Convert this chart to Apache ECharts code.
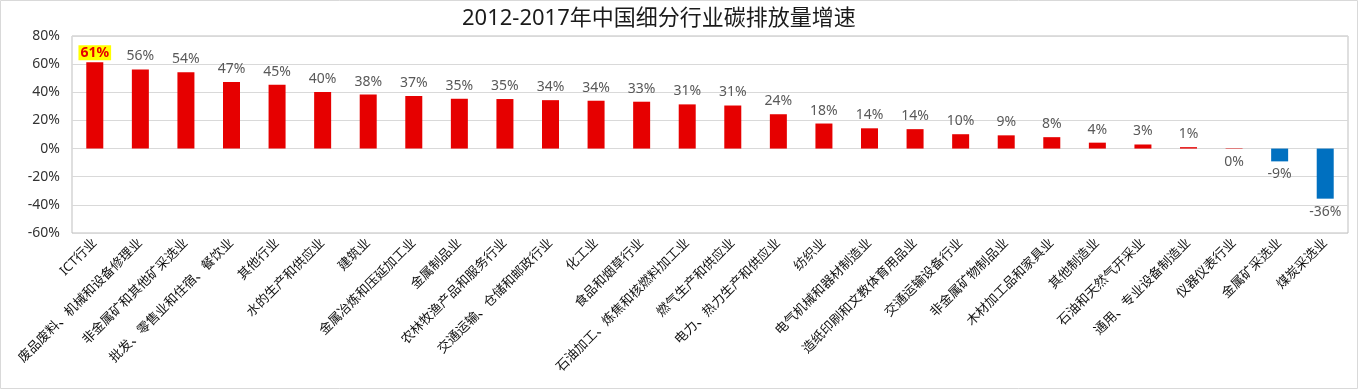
<!DOCTYPE html>
<html>
<head>
<meta charset="utf-8">
<script src="https://cdn.jsdelivr.net/npm/echarts@6/dist/echarts.min.js"></script>
<style>
html,body{margin:0;padding:0;background:#fff;}
#chart{width:1366px;height:390px;}
</style>
</head>
<body>
<div id="chart"></div>
<script>
const titleText = '2012-2017年中国细分行业碳排放量增速';
const categories = ['ICT行业','废品废料、机械和设备修理业','非金属矿和其他矿采选业','批发、零售业和住宿、餐饮业','其他行业','水的生产和供应业','建筑业','金属冶炼和压延加工业','金属制品业','农林牧渔产品和服务行业','交通运输、仓储和邮政行业','化工业','食品和烟草行业','石油加工、炼焦和核燃料加工业','燃气生产和供应业','电力、热力生产和供应业','纺织业','电气机械和器材制造业','造纸印刷和文教体育用品业','交通运输设备行业','非金属矿物制品业','木材加工品和家具业','其他制造业','石油和天然气开采业','通用、专业设备制造业','仪器仪表行业','金属矿采选业','煤炭采选业'];
const growth = [61.4,56.2,54.3,47.3,45.4,40.2,38.4,37.3,35.4,35.2,34.4,34.0,33.3,31.4,30.6,24.4,17.8,14.4,13.8,10.2,9.4,8.1,4.2,2.9,1.0,-0.3,-9.1,-35.6];
const yTicks = [-60,-40,-20,0,20,40,60,80];

const RED = '#E60000', BLUE = '#0070C0';
const font = '"Noto Sans", "Noto Sans CJK SC", sans-serif';

const data = growth.map((v, i) => {
  const item = { value: v, itemStyle: { color: (v < -1) ? BLUE : RED } };
  if (i === 0) {
    item.label = { color: RED, fontWeight: 'bold', backgroundColor: '#FFFF00', padding: [1, 2, 0, 2], distance: 2 };
  }
  return item;
});

const chart = echarts.init(document.getElementById('chart'));
chart.setOption({
  animation: false,
  title: {
    text: titleText, left: 462, top: 8, padding: 0,
    textStyle: { fontSize: 22, fontWeight: 'normal', color: '#1a1a1a', fontFamily: font }
  },
  graphic: [{
    type: 'rect', shape: { x: 0.5, y: 0.5, width: 1357, height: 388 },
    style: { fill: 'none', stroke: '#d9d9d9', lineWidth: 1 }, z: -10
  }],
  grid: { left: 72, right: 18, top: 36, bottom: 157, show: true, borderColor: '#bfbfbf', borderWidth: 1 },
  xAxis: {
    type: 'category', data: categories,
    axisLine: { show: false },
    axisTick: { show: false },
    axisLabel: { interval: 0, rotate: 45, margin: 8, fontSize: 13, color: '#111', fontFamily: font }
  },
  yAxis: {
    type: 'value', min: yTicks[0], max: yTicks[yTicks.length - 1], interval: 20,
    axisLine: { show: false }, axisTick: { show: false },
    splitLine: { lineStyle: { color: '#d9d9d9' } },
    axisLabel: { formatter: v => v + '%', fontSize: 14, color: '#333', margin: 12, fontFamily: font }
  },
  series: [{
    type: 'bar', data: data, barWidth: 17,
    label: {
      show: true, position: 'outside', distance: 6,
      formatter: p => Math.round(p.value) === 0 ? '0%' : Math.round(p.value) + '%',
      fontSize: 14, color: '#595959', fontFamily: font
    }
  }]
});
</script>
</body>
</html>
